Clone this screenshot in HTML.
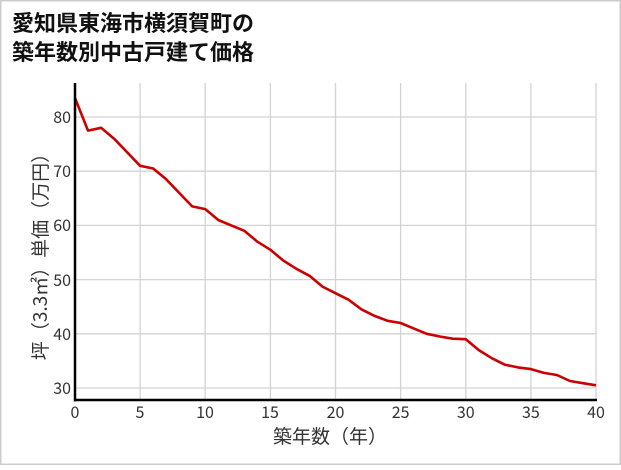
<!DOCTYPE html>
<html><head><meta charset="utf-8"><style>
html,body{margin:0;padding:0;background:#fff;}
</style></head><body>
<svg width="621" height="465" viewBox="0 0 621 465" xmlns="http://www.w3.org/2000/svg" font-family="'Noto Sans CJK JP','Liberation Sans',sans-serif">
<rect x="0.5" y="0.5" width="620" height="464" fill="#fff" stroke="#ccc" stroke-width="2"/>
<text x="12" y="31" font-size="22" font-weight="bold" fill="#111">愛知県東海市横須賀町の</text>
<text x="12" y="60" font-size="22" font-weight="bold" fill="#111">築年数別中古戸建て価格</text>
<g stroke="#d3d3d3" stroke-width="1.3">
<line x1="140.1" y1="83" x2="140.1" y2="400"/><line x1="205.2" y1="83" x2="205.2" y2="400"/>
<line x1="270.4" y1="83" x2="270.4" y2="400"/><line x1="335.5" y1="83" x2="335.5" y2="400"/>
<line x1="400.6" y1="83" x2="400.6" y2="400"/><line x1="465.8" y1="83" x2="465.8" y2="400"/>
<line x1="530.9" y1="83" x2="530.9" y2="400"/><line x1="596" y1="83" x2="596" y2="400"/>
<line x1="75" y1="117" x2="596" y2="117"/><line x1="75" y1="171.2" x2="596" y2="171.2"/>
<line x1="75" y1="225.4" x2="596" y2="225.4"/><line x1="75" y1="279.6" x2="596" y2="279.6"/>
<line x1="75" y1="333.8" x2="596" y2="333.8"/><line x1="75" y1="388" x2="596" y2="388"/>
</g>
<polyline fill="none" stroke="#cc0000" stroke-width="2.6" stroke-linejoin="round" points="75,98 88,130.6 101.1,127.8 114.1,138.7 127.1,152.2 140.1,165.8 153.2,168.5 166.2,179.3 179.2,192.9 192.2,206.4 205.3,209.1 218.3,220 231.3,225.4 244.3,230.8 257.4,241.7 270.4,249.8 283.4,260.6 296.4,268.8 309.5,275.8 322.5,286.6 335.5,293.2 348.5,299.7 361.6,309.4 374.6,315.9 387.6,320.8 400.6,323 413.7,328.4 426.7,333.8 439.7,336.5 452.7,338.7 465.8,339.2 478.8,350.1 491.8,358.2 504.8,364.7 517.9,367.4 530.9,369.1 543.9,372.9 556.9,375 570,381 583,383.2 596,385.3"/>
<line x1="75" y1="83" x2="75" y2="401.5" stroke="#000" stroke-width="2.5"/>
<line x1="74" y1="400" x2="597" y2="400" stroke="#000" stroke-width="2.5"/>
<g font-size="16" fill="#333" text-anchor="end">
<text x="71" y="123">80</text><text x="71" y="177">70</text><text x="71" y="231">60</text>
<text x="71" y="286">50</text><text x="71" y="340">40</text><text x="71" y="394">30</text>
</g>
<g font-size="16" fill="#333" text-anchor="middle">
<text x="75" y="418">0</text><text x="140" y="418">5</text><text x="205" y="418">10</text>
<text x="270" y="418">15</text><text x="335.5" y="418">20</text><text x="400.6" y="418">25</text>
<text x="465.8" y="418">30</text><text x="530.9" y="418">35</text><text x="596" y="418">40</text>
</g>
<text x="330" y="443" font-size="19" fill="#333" text-anchor="middle">築年数（年）</text>
<text transform="translate(47,252) rotate(-90)" font-size="19" fill="#333" text-anchor="middle">坪（3.3㎡）単価（万円）</text>
</svg>
</body></html>
